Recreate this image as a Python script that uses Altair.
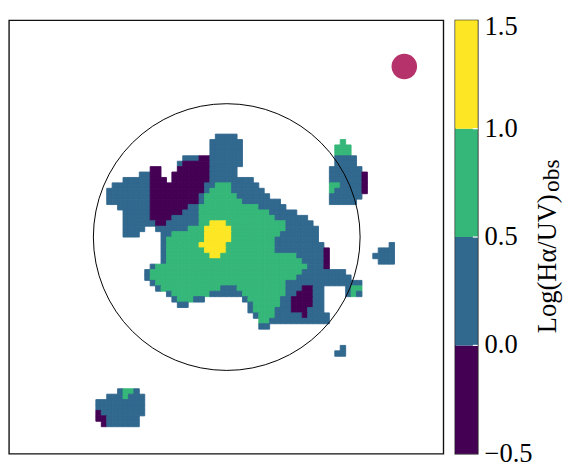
import altair as alt
import pandas as pd

# ---------------- data ----------------
GRID_COLS = 80
GRID_ROWS = 80

# classified map cells: row -> runs "<class><firstcol>-<lastcol>"
# p: -0.5..0, b: 0..0.5, g: 0.5..1.0, y: 1.0..1.5
MAP_ROWS = {
    21: "b38-41",
    22: "b37-42 g61",
    23: "b37-42 g60-62",
    24: "b37-42 g60-62",
    25: "b32-34 p35-36 b37-42 b60-63",
    26: "b31 p32-36 b37-42 b60-63",
    27: "p26-27 p31-36 b37-41 b59-64",
    28: "b24-25 p26-27 p30-36 b37-41 b59-64 p65",
    29: "b21-25 p26-28 p30-36 b37-44 b59-64 p65",
    30: "b19-25 p26-35 b36-37 g38-40 b41-45 g59-60 b61-64 p65",
    31: "b18-25 p26-35 b36 g37-40 b41-46 g59 b60-64 p65",
    32: "b18-25 p26-34 b35 g36-41 b42-47 b59-64",
    33: "b18-25 p26-34 b35 g36-42 b43-49 b59-63",
    34: "b20-25 p26-32 b33-34 g35-45 b46-50",
    35: "b21-25 p26-31 b32-34 g35-47 b48-52",
    36: "b21-25 p26-29 b30-34 g35-48 b49-54",
    37: "b21-26 p27-28 b29-34 g35-36 y37-39 g40-50 b51-55",
    38: "b21-24 b27-32 g33-35 y36-40 g41-50 b51-56",
    39: "b21-23 b28-29 g30-35 y36-40 g41-49 b50-56",
    40: "b28 g29-35 y36-40 g41-48 b49-56",
    41: "b28 g29-34 y35-39 g40-48 b49-57 b70",
    42: "b28 g29-35 y36-39 g40-48 b49-57 p58 b68-70",
    43: "b28 g29-36 y37-38 g39-52 b53-57 p58 b67-70",
    44: "b28 g29-53 b54-57 p58 b68-70",
    45: "b26 g27-54 b55-57 p58",
    46: "b25 g26-53 b54-61",
    47: "b25 g26-52 b53-62",
    48: "b26 g27-50 b51-64",
    49: "b27 g28-38 b39-41 g42-50 b51-53 p54-55 b56-57 b62 g63-64",
    50: "b29 g30-36 b37-42 g43-50 b51-52 p53-55 b56-57 b62 g63 b64",
    51: "b30 g31-33 b34-35 b43 g44-49 b50-51 p52-55 b56-57",
    52: "b31-32 b44 g45-49 b50-51 p52-55 b56-57",
    53: "b44 g45-48 b49-51 p52-54 b55-57",
    54: "b45 g46-48 b49-53 p54 b55-58",
    55: "g46-47 b48-58",
    56: "b46-47",
    60: "b61",
    61: "b60-61",
    68: "b20 g21-22 b23",
    69: "b18-20 g21 b22-24",
    70: "b16-24",
    71: "b16-24",
    72: "p16 b17-24",
    73: "p16-17 b18-23",
    74: "p17 b18-23",
}

CLASS_CODES = ["p", "b", "g", "y"]
CLASS_COLORS = ["#440154", "#31688e", "#35b779", "#fde725"]

BIN_LOWER = [-0.5, 0.0, 0.5, 1.0]
BIN_UPPER = [0.0, 0.5, 1.0, 1.5]
TICK_VALUES = [-0.5, 0.0, 0.5, 1.0]
TICK_LABELS = ["\u22120.5", "0.0", "0.5", "1.0"]
TOP_TICK_VALUE = [1.5]
TOP_TICK_LABEL = ["1.5"]
INNER_TICKS = [0.0, 0.5, 1.0]
CBAR_TITLE = "Log(H\u03b1/UV)"
CBAR_SUB = "obs"

APERTURE_X = [40.1]
APERTURE_Y = [40.0]
APERTURE_RADIUS = 136
BEAM_X = [72.8]
BEAM_Y = [8.5]
BEAM_RADIUS = 13

# ---------------- build tables ----------------
recs = []
for r, spec in MAP_ROWS.items():
    for tok in spec.split():
        k = tok[0]
        rng = tok[1:]
        if "-" in rng:
            a, b = rng.split("-")
        else:
            a = b = rng
        for c in range(int(a), int(b) + 1):
            recs.append({"col": c, "col2": c + 1, "row": r, "row2": r + 1, "cls": k})
cells_df = pd.DataFrame(recs)

W, H = 443, 442
FONT = "Liberation Serif"

xs = alt.Scale(domain=[0, GRID_COLS], nice=False, zero=False)
ys = alt.Scale(domain=[0, GRID_ROWS], nice=False, zero=False, reverse=True)
cscale = alt.Scale(domain=CLASS_CODES, range=CLASS_COLORS)

cells = alt.Chart(cells_df).mark_rect(strokeWidth=0.9).encode(
    x=alt.X("col:Q", scale=xs, axis=None),
    x2="col2:Q",
    y=alt.Y("row:Q", scale=ys, axis=None),
    y2="row2:Q",
    color=alt.Color("cls:N", scale=cscale, legend=None),
    stroke=alt.Stroke("cls:N", scale=cscale, legend=None),
)

# Vega symbol size is the area of the bounding square: (2r)^2
aperture = alt.Chart(pd.DataFrame({"x": APERTURE_X, "y": APERTURE_Y})).mark_point(
    shape="circle", filled=False, color="black", strokeWidth=1, opacity=1,
    size=(2 * APERTURE_RADIUS) ** 2,
).encode(x=alt.X("x:Q", scale=xs, axis=None), y=alt.Y("y:Q", scale=ys, axis=None))

beam = alt.Chart(pd.DataFrame({"x": BEAM_X, "y": BEAM_Y})).mark_point(
    shape="circle", filled=True, color="#b6326a", opacity=1, strokeWidth=0,
    size=(2 * BEAM_RADIUS) ** 2,
).encode(x=alt.X("x:Q", scale=xs, axis=None), y=alt.Y("y:Q", scale=ys, axis=None))

map_panel = alt.layer(cells, aperture, beam).properties(width=W, height=H)

# ---------------- colorbar ----------------
CB_W = 23
vscale = alt.Scale(domain=[-0.5, 1.5], nice=False, zero=False)

cb_df = pd.DataFrame({"lo": BIN_LOWER, "hi": BIN_UPPER, "cls": CLASS_CODES})
cb_rects = alt.Chart(cb_df).mark_rect().encode(
    x=alt.value(0), x2=alt.value(CB_W),
    y=alt.Y("lo:Q", scale=vscale, axis=None), y2="hi:Q",
    color=alt.Color("cls:N", scale=cscale, legend=None),
)

cb_inner = alt.Chart(pd.DataFrame({"v": INNER_TICKS})).mark_rule(color="white", strokeWidth=1.2).encode(
    y=alt.Y("v:Q", scale=vscale, axis=None), x=alt.value(CB_W - 5), x2=alt.value(CB_W),
)

cb_labels = alt.Chart(pd.DataFrame({"v": TICK_VALUES, "t": TICK_LABELS})).mark_text(
    align="left", baseline="middle", font=FONT, fontSize=27, color="black",
).encode(y=alt.Y("v:Q", scale=vscale, axis=None), x=alt.value(CB_W + 7), text="t:N")

cb_top = alt.Chart(pd.DataFrame({"v": TOP_TICK_VALUE, "t": TOP_TICK_LABEL})).mark_text(
    align="left", baseline="top", dy=-6, font=FONT, fontSize=27, color="black",
).encode(y=alt.Y("v:Q", scale=vscale, axis=None), x=alt.value(CB_W + 7), text="t:N")

title_main = alt.Chart(pd.DataFrame({"t": [CBAR_TITLE]})).mark_text(
    angle=270, align="left", baseline="alphabetic", font=FONT, fontSize=27, color="black",
).encode(text="t:N", x=alt.value(103), y=alt.value(319))

title_sub = alt.Chart(pd.DataFrame({"t": [CBAR_SUB]})).mark_text(
    angle=270, align="left", baseline="alphabetic", font=FONT, fontSize=24, color="black",
).encode(text="t:N", x=alt.value(106), y=alt.value(175))

colorbar = alt.layer(cb_rects, cb_inner, cb_labels, cb_top, title_main, title_sub).properties(
    width=CB_W, height=H
)

chart = (
    alt.hconcat(map_panel, colorbar, spacing=10)
    .properties(padding={"left": 0, "top": 0, "right": 0, "bottom": 0})
    .configure(font=FONT)
    .configure_view(stroke="#111111", strokeWidth=1.4)
)

chart.save("out.html", embed_options={"renderer": "svg", "actions": False})
